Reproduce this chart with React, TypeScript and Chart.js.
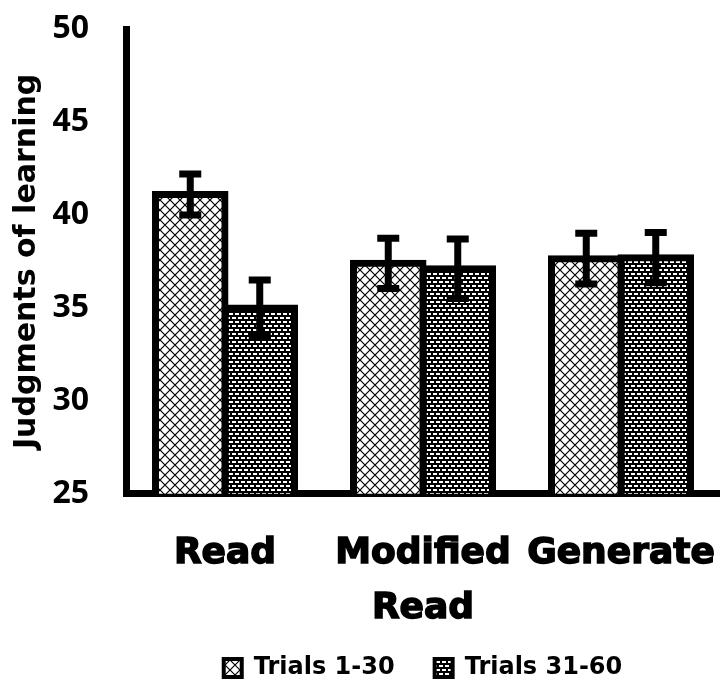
import React, { useEffect, useRef } from "react";
import { Chart, registerables } from "chart.js";
Chart.register(...registerables);

const categories: (string | string[])[] = ["Read", ["Modified", "Read"], "Generate"];
const seriesNames = ["Trials 1-30", "Trials 31-60"];
const trials1to30 = [41.1, 37.4, 37.65];
const trials31to60 = [35.0, 37.1, 37.7];
const err1to30 = [1.1, 1.35, 1.37];
const err31to60 = [1.5, 1.6, 1.35];
const yMin = 25;
const yMax = 50;
const yStep = 5;

function makeCrossPattern(): CanvasPattern | string {
  const c = document.createElement("canvas");
  c.width = 10;
  c.height = 10;
  const g = c.getContext("2d");
  if (!g) return "#fff";
  g.fillStyle = "#fff";
  g.fillRect(0, 0, 10, 10);
  g.strokeStyle = "#000";
  g.lineWidth = 1.2;
  g.beginPath();
  g.moveTo(0, 0);
  g.lineTo(10, 10);
  g.moveTo(10, 0);
  g.lineTo(0, 10);
  g.stroke();
  const p = g.createPattern(c, "repeat");
  return p || "#fff";
}

function makeDashPattern(): CanvasPattern | string {
  const c = document.createElement("canvas");
  c.width = 12;
  c.height = 8;
  const g = c.getContext("2d");
  if (!g) return "#000";
  g.fillStyle = "#000";
  g.fillRect(0, 0, 12, 8);
  g.fillStyle = "#fff";
  g.fillRect(1, 1, 4, 2);
  g.fillRect(7, 1, 4, 2);
  g.fillRect(4, 5, 4, 2);
  g.fillRect(10, 5, 2, 2);
  g.fillRect(0, 5, 2, 2);
  const p = g.createPattern(c, "repeat");
  return p || "#000";
}

const errorBarPlugin = {
  id: "errorBars",
  afterDatasetsDraw(chart: any) {
    const ctx = chart.ctx;
    const y = chart.scales.y;
    const errs = [err1to30, err31to60];
    ctx.save();
    ctx.strokeStyle = "#000";
    ctx.lineWidth = 7;
    chart.data.datasets.forEach((ds: any, di: number) => {
      const meta = chart.getDatasetMeta(di);
      meta.data.forEach((el: any, i: number) => {
        const v = ds.data[i];
        const e = errs[di][i];
        const yTop = y.getPixelForValue(v + e);
        const yBot = y.getPixelForValue(v - e);
        const x = el.x;
        ctx.beginPath();
        ctx.moveTo(x, yTop);
        ctx.lineTo(x, yBot);
        ctx.moveTo(x - 11, yTop);
        ctx.lineTo(x + 11, yTop);
        ctx.moveTo(x - 11, yBot);
        ctx.lineTo(x + 11, yBot);
        ctx.stroke();
      });
    });
    ctx.restore();
  },
};

const zeroPadding = (scale: any) => {
  scale.paddingLeft = 0;
  scale.paddingRight = 0;
  scale.paddingTop = 0;
  scale.paddingBottom = 0;
};

export default function App() {
  const ref = useRef<HTMLCanvasElement | null>(null);
  useEffect(() => {
    if (!ref.current) return;
    const cross = makeCrossPattern();
    const dash = makeDashPattern();
    const fills = [cross, dash];
    const barStyle = {
      borderColor: "#000",
      borderWidth: 7,
      borderSkipped: false,
      inflateAmount: 3.5,
      barPercentage: 1.0,
      categoryPercentage: 0.702,
    };
    const chart = new Chart(ref.current, {
      type: "bar",
      data: {
        labels: categories,
        datasets: [
          {
            label: seriesNames[0],
            data: trials1to30,
            backgroundColor: cross as any,
            ...barStyle,
          } as any,
          {
            label: seriesNames[1],
            data: trials31to60,
            backgroundColor: dash as any,
            ...barStyle,
          } as any,
        ],
      },
      options: {
        animation: false,
        responsive: false,
        maintainAspectRatio: false,
        layout: { padding: { top: 29, left: 12, right: 0, bottom: 1 } },
        plugins: {
          tooltip: { enabled: false },
          legend: {
            position: "bottom",
            fullSize: false,
            labels: {
              color: "#000",
              font: { family: "DejaVu Sans", weight: "bold", size: 24 },
              boxWidth: 18,
              boxHeight: 18,
              padding: 40,
              generateLabels: () =>
                seriesNames.map((n, i) => ({
                  text: n,
                  fillStyle: fills[i] as any,
                  strokeStyle: "#000",
                  lineWidth: 4,
                  hidden: false,
                  datasetIndex: i,
                })),
            },
          },
        },
        scales: {
          x: {
            afterFit: (scale: any) => {
              zeroPadding(scale);
              scale.height = scale.height - 44;
              scale._computeLabelArea = () => undefined;
            },
            grid: { display: false },
            border: { display: true, color: "#000", width: 7 },
            ticks: {
              color: "#000",
              font: { family: "DejaVu Sans", weight: "bold", size: 36, lineHeight: 1.53 },
              textStrokeColor: "#000",
              textStrokeWidth: 1.5,
              padding: 24,
              maxRotation: 0,
              autoSkip: false,
            },
          },
          y: {
            afterFit: (scale: any) => {
              zeroPadding(scale);
              scale.width = 114;
            },
            min: yMin,
            max: yMax,
            grid: { display: false },
            border: { display: true, color: "#000", width: 7 },
            ticks: {
              stepSize: yStep,
              color: "#000",
              font: { family: "Open Sans", weight: "bold", size: 32 },
              padding: 29,
            },
            title: {
              display: true,
              text: "Judgments of learning",
              color: "#000",
              font: { family: "DejaVu Sans", weight: "bold", size: 30, lineHeight: 1 },
              padding: { top: 0, bottom: 0 },
            },
          },
        },
      },
      plugins: [errorBarPlugin],
    });
    return () => chart.destroy();
  }, []);
  return (
    <div style={{ position: "fixed", left: 0, top: 0, width: 720, height: 691, background: "#fff" }}>
      <canvas ref={ref} width={720} height={691} style={{ width: 720, height: 691 }} />
    </div>
  );
}
